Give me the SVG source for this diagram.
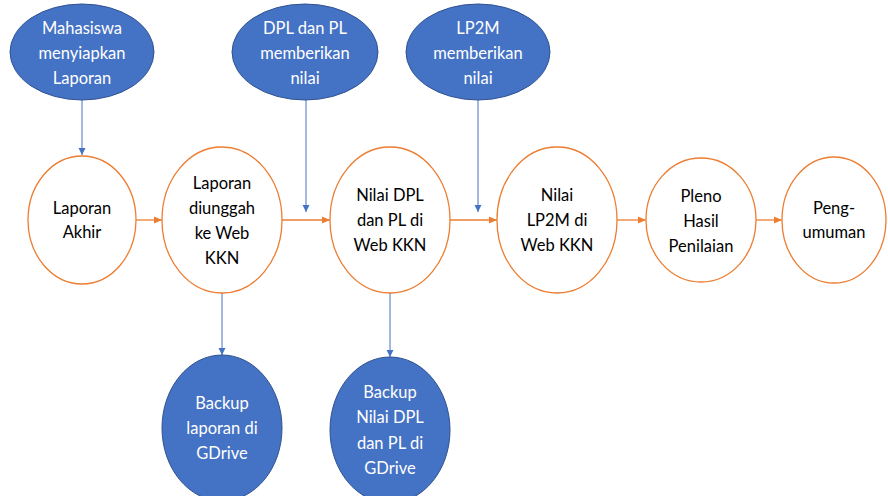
<svg xmlns="http://www.w3.org/2000/svg" width="888" height="496" viewBox="0 0 888 496">
  <style>
    .blue { fill: #4472C4; stroke: #2F528F; stroke-width: 1; }
    .step { fill: #FFFFFF; stroke: #ED7D31; stroke-width: 1.3; }
    .lbl { font-family: Lato, "Open Sans", "Liberation Sans", sans-serif; font-size: 16.5px; text-anchor: middle; }
    .wt { fill: #FFFFFF; }
    .bk { fill: #000000; }
    .cb { stroke: #4472C4; stroke-width: 1; fill: none; }
    .co { stroke: #ED7D31; stroke-width: 1.3; fill: none; }
  </style>
  <defs>
    <marker id="ab" markerWidth="8" markerHeight="8" refX="7" refY="4" orient="auto" markerUnits="userSpaceOnUse">
      <path d="M0,0.5 L7,4 L0,7.5 Z" fill="#4472C4"/>
    </marker>
    <marker id="ao" markerWidth="9" markerHeight="9" refX="8" refY="4.5" orient="auto" markerUnits="userSpaceOnUse">
      <path d="M0,1 L8,4.5 L0,8 Z" fill="#ED7D31"/>
    </marker>
  </defs>
  <rect width="888" height="496" fill="#FFFFFF"/>

  <!-- connectors -->
  <g id="connectors">
    <line class="cb" x1="82" y1="100" x2="82" y2="155" marker-end="url(#ab)"/>
    <line class="cb" x1="306" y1="100" x2="306" y2="212" marker-end="url(#ab)"/>
    <line class="cb" x1="478" y1="100" x2="478" y2="212" marker-end="url(#ab)"/>
    <line class="cb" x1="222" y1="293" x2="222" y2="355" marker-end="url(#ab)"/>
    <line class="cb" x1="390" y1="293" x2="390" y2="357" marker-end="url(#ab)"/>
    <line class="co" x1="136" y1="220" x2="162" y2="220" marker-end="url(#ao)"/>
    <line class="co" x1="282" y1="220" x2="330" y2="220" marker-end="url(#ao)"/>
    <line class="co" x1="450" y1="220" x2="497" y2="220" marker-end="url(#ao)"/>
    <line class="co" x1="617" y1="220" x2="646" y2="220" marker-end="url(#ao)"/>
    <line class="co" x1="756" y1="220" x2="782" y2="220" marker-end="url(#ao)"/>
  </g>

  <!-- actors (top) -->
  <g id="mahasiswa">
    <ellipse class="blue" cx="82" cy="52" rx="72" ry="48"/>
    <text class="lbl wt" x="82" y="34">Mahasiswa</text>
    <text class="lbl wt" x="82" y="59">menyiapkan</text>
    <text class="lbl wt" x="82" y="84">Laporan</text>
  </g>
  <g id="dpl-pl">
    <ellipse class="blue" cx="305" cy="52" rx="73" ry="48"/>
    <text class="lbl wt" x="305" y="34">DPL dan PL</text>
    <text class="lbl wt" x="305" y="59">memberikan</text>
    <text class="lbl wt" x="305" y="84">nilai</text>
  </g>
  <g id="lp2m">
    <ellipse class="blue" cx="478" cy="52" rx="72" ry="48"/>
    <text class="lbl wt" x="478" y="34">LP2M</text>
    <text class="lbl wt" x="478" y="59">memberikan</text>
    <text class="lbl wt" x="478" y="84">nilai</text>
  </g>

  <!-- process steps -->
  <g id="laporan-akhir">
    <ellipse class="step" cx="82" cy="220" rx="54" ry="64"/>
    <text class="lbl bk" x="82" y="214">Laporan</text>
    <text class="lbl bk" x="82" y="238">Akhir</text>
  </g>
  <g id="laporan-diunggah">
    <ellipse class="step" cx="222" cy="220" rx="60" ry="73"/>
    <text class="lbl bk" x="222" y="189">Laporan</text>
    <text class="lbl bk" x="222" y="214">diunggah</text>
    <text class="lbl bk" x="222" y="239">ke Web</text>
    <text class="lbl bk" x="222" y="264">KKN</text>
  </g>
  <g id="nilai-dpl">
    <ellipse class="step" cx="390" cy="220" rx="60" ry="73"/>
    <text class="lbl bk" x="390" y="201">Nilai DPL</text>
    <text class="lbl bk" x="390" y="226">dan PL di</text>
    <text class="lbl bk" x="390" y="251">Web KKN</text>
  </g>
  <g id="nilai-lp2m">
    <ellipse class="step" cx="557" cy="220" rx="60" ry="73"/>
    <text class="lbl bk" x="557" y="201">Nilai</text>
    <text class="lbl bk" x="557" y="226">LP2M di</text>
    <text class="lbl bk" x="557" y="251">Web KKN</text>
  </g>
  <g id="pleno">
    <ellipse class="step" cx="701" cy="220" rx="55" ry="62"/>
    <text class="lbl bk" x="701" y="202">Pleno</text>
    <text class="lbl bk" x="701" y="227">Hasil</text>
    <text class="lbl bk" x="701" y="252">Penilaian</text>
  </g>
  <g id="pengumuman">
    <ellipse class="step" cx="834" cy="220" rx="52" ry="63"/>
    <text class="lbl bk" x="834" y="214">Peng-</text>
    <text class="lbl bk" x="834" y="238">umuman</text>
  </g>

  <!-- backups (bottom) -->
  <g id="backup-laporan">
    <ellipse class="blue" cx="222" cy="428" rx="60" ry="73"/>
    <text class="lbl wt" x="222" y="409">Backup</text>
    <text class="lbl wt" x="222" y="434">laporan di</text>
    <text class="lbl wt" x="222" y="459">GDrive</text>
  </g>
  <g id="backup-nilai">
    <ellipse class="blue" cx="390" cy="430" rx="60" ry="73"/>
    <text class="lbl wt" x="390" y="398">Backup</text>
    <text class="lbl wt" x="390" y="423">Nilai DPL</text>
    <text class="lbl wt" x="390" y="449">dan PL di</text>
    <text class="lbl wt" x="390" y="474">GDrive</text>
  </g>
</svg>
